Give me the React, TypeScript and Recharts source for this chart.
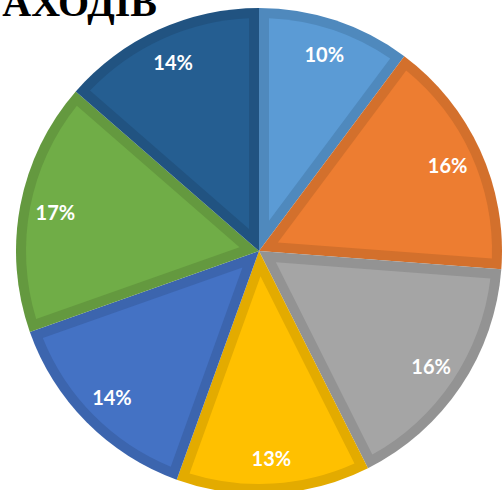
import { Pie, PieChart, Sector } from "recharts"

const names = ["Захід 1", "Захід 2", "Захід 3", "Захід 4", "Захід 5", "Захід 6", "Захід 7"]
const shares = [10.2, 16.0, 16.4, 12.9, 14.1, 16.8, 13.6]
const fills = ["#5B9BD5", "#ED7D31", "#A5A5A5", "#FFC000", "#4472C4", "#70AD47", "#255E91"]
const borders = ["#4F89BD", "#D3702C", "#939393", "#E3AB00", "#3C65AE", "#64993F", "#215381"]

const data = names.map((name, i) => ({ name, value: shares[i], fill: fills[i], border: borders[i] }))

const RAD = Math.PI / 180
const INSET = 10

const pt = (cx: number, cy: number, r: number, a: number) => [cx + r * Math.cos(a * RAD), cy - r * Math.sin(a * RAD)]

// sector in the border colour, then the same sector shrunk inwards by INSET in the fill colour
function BorderedSlice(props: any) {
  const { cx, cy, outerRadius, startAngle, endAngle, name } = props
  const i = names.indexOf(name)
  const s = startAngle
  const e = endAngle
  const dir = Math.sign(e - s) || -1
  const half = (Math.abs(e - s) / 2) * RAD
  const mid = (s + e) / 2
  const r2 = outerRadius - INSET
  const delta = Math.asin(INSET / r2) / RAD
  const s2 = s + dir * delta
  const e2 = e - dir * delta
  const apex = pt(cx, cy, INSET / Math.sin(half), mid)
  const p1 = pt(cx, cy, r2, s2)
  const p2 = pt(cx, cy, r2, e2)
  const large = Math.abs(e2 - s2) > 180 ? 1 : 0
  const sweep = s > e ? 1 : 0
  const d = `M${apex[0]},${apex[1]} L${p1[0]},${p1[1]} A${r2},${r2} 0 ${large} ${sweep} ${p2[0]},${p2[1]} Z`
  return (
    <g>
      <Sector cx={cx} cy={cy} innerRadius={0} outerRadius={outerRadius} startAngle={s} endAngle={e} fill={borders[i]} stroke="none" />
      <path d={d} fill={fills[i]} />
    </g>
  )
}

function SliceLabel(props: any) {
  const { cx, cy, midAngle, outerRadius, percent } = props
  const [x, y] = pt(cx, cy, outerRadius * 0.853, midAngle)
  return (
    <text x={x} y={y} fill="#FFFFFF" textAnchor="middle" dominantBaseline="central" fontFamily="Lato" fontWeight={700} fontSize={20}>
      {`${Math.round(percent * 100)}%`}
    </text>
  )
}

export default function App() {
  return (
    <div style={{ position: "fixed", left: 0, top: 0, background: "#FFFFFF" }}>
      <PieChart width={503} height={490} margin={{ top: 0, right: 0, bottom: 0, left: 0 }}>
        <text x={157} y={16} textAnchor="end" fontFamily="Liberation Serif" fontWeight={700} fontSize={40} fill="#000000">
          АХОДІВ
        </text>
        <Pie
          data={data}
          dataKey="value"
          nameKey="name"
          cx={259}
          cy={251}
          outerRadius={243}
          startAngle={90}
          endAngle={-270}
          stroke="none"
          shape={BorderedSlice}
          label={SliceLabel}
          labelLine={false}
          isAnimationActive={false}
        />
      </PieChart>
    </div>
  )
}
